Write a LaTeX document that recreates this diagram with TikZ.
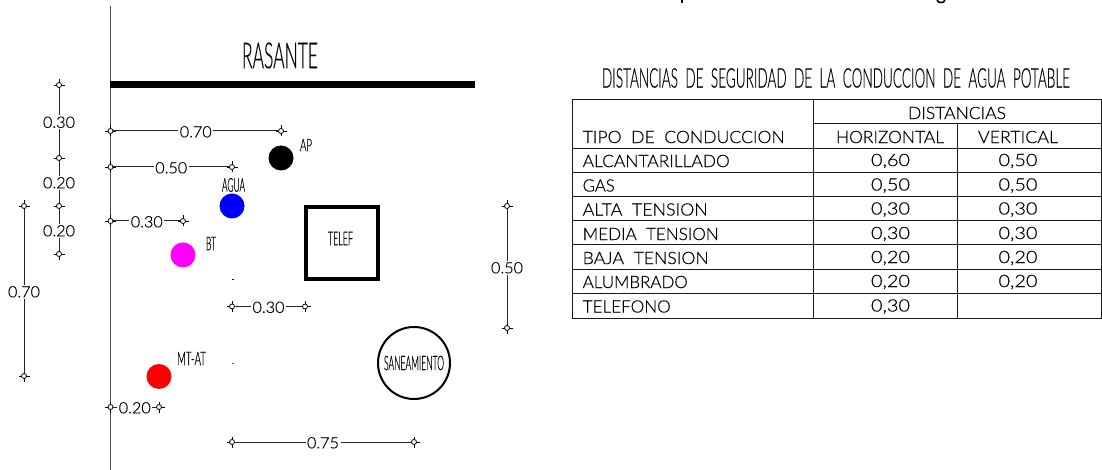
\documentclass[tikz,border=0pt]{standalone}
\usepackage{graphicx}
\usepackage{fontspec}
\setmainfont{Lato}[UprightFont=* Light,UprightFeatures={FakeBold=0.35}]
\newcommand{\fitw}[3]{\fontsize{#2}{#2}\selectfont\resizebox{#1pt}{\height}{#3}}
\newcommand{\term}[2]{\coordinate (#1t) at (#2);
  \draw[termt] ([yshift=-5.5pt]#1t) -- ([yshift=5.5pt]#1t) ([xshift=-5.5pt]#1t) -- ([xshift=5.5pt]#1t);
  \node[termc] (#1) at (#2) {};}
\newcommand{\dm}[3]{\draw[dimline] (#1) -- node[dimlab] (lab#1) {\fitw{32}{15.5}{#3}} (#2);}
\newcommand{\trow}[6]{%
  \node[celltxt,anchor=west] (#1a) at (582.5,#2) {\fitw{#3}{17}{#4}};
  \node[celltxt] (#1b) at (890.5,#2) {\fitw{39}{17}{#5}};
  \node[celltxt] (#1c) at (1018,#2) {\fitw{39}{17}{#6}};}
\tikzset{
  termc/.style={circle,draw=black,fill=white,inner sep=0pt,minimum size=5pt,line width=.8pt},
  termt/.style={line width=.7pt,draw=black},
  dimline/.style={line width=1pt,draw=black!85},
  dimlab/.style={fill=white,inner sep=1.5pt,text=black,yshift=-.8pt},
  pipe/.style={circle,inner sep=0pt,minimum size=25pt},
  tag/.style={inner sep=0pt,text=black},
  celltxt/.style={inner sep=0pt,text=black},
  grid/.style={line width=1pt,draw=black!90},
}
\begin{document}
\begin{tikzpicture}[x=1pt,y=-1pt]
\useasboundingbox[fill=white] (0,0) rectangle (1102,470);
% cut-off line of text at the top edge
\fill[black] (681,0) rectangle (682.8,3);
\draw[line width=1.6pt] (937,0) .. controls (938,3.5) and (944,3.5) .. (945,0);
% axis and grade
\coordinate (axt) at (110.5,6); \coordinate (axb) at (110.5,470);
\draw[line width=1.2pt,draw=black!70] (axt) -- (axb);
\coordinate (rl) at (110,85); \coordinate (rr) at (475,85);
\draw[line width=7pt] (rl) -- (rr);
\node[tag] (rasante) at (280,55.5) {\fitw{76}{36}{RASANTE}};
% terminators
\term{a1}{59,85}\term{a2}{59,158}\term{a3}{59,206}\term{a4}{59,254}
\term{b1}{24,206}\term{b2}{24,376}
\term{c1}{110.5,131}\term{c2}{281,131}
\term{d1}{110.5,167}\term{d2}{232,167}
\term{e1}{110.5,221}\term{e2}{183,221}
\term{f1}{232,306.5}\term{f2}{305,306.5}
\term{g1}{110.5,407}\term{g2}{159,407}
\term{h1}{232,442}\term{h2}{414,442}
\term{i1}{507,206}\term{i2}{507,328}
% dimensions
\dm{a1}{a2}{0.30}
\dm{a2}{a3}{0.20}
\dm{a3}{a4}{0.20}
\dm{b1}{b2}{0.70}
\dm{c1}{c2}{0.70}
\dm{d1}{d2}{0.50}
\dm{e1}{e2}{0.30}
\dm{f1}{f2}{0.30}
\dm{g1}{g2}{0.20}
\dm{h1}{h2}{0.75}
\dm{i1}{i2}{0.50}
% utilities
\node[pipe,fill=black] (ap) at (281,158) {};
\node[pipe,fill=blue] (agua) at (232,206) {};
\node[pipe,fill={rgb,255:red,255;green,0;blue,255}] (bt) at (183,255) {};
\node[pipe,fill=red] (mtat) at (159,376.5) {};
\node[tag] (lap) at (306,145) {\fitw{12}{17}{AP}};
\node[tag] (lagua) at (233.5,185) {\fitw{23}{19}{AGUA}};
\node[tag] (lbt) at (211,243.5) {\fitw{10}{19}{BT}};
\node[tag] (lmt) at (191.5,358.5) {\fitw{29}{19}{MT-AT}};
\node[draw,line width=4pt,minimum size=72pt,inner sep=0pt] (telef) at (341.5,243) {};
\node[tag] (ltel) at (340.5,238.5) {\fitw{25}{19}{TELEF}};
\node[circle,draw,line width=2pt,minimum size=72pt,inner sep=0pt] (san) at (414,363) {};
\node[tag] (lsan) at (414,363) {\fitw{60}{20}{SANEAMIENTO}};
\fill[black] (232,278.6) rectangle (233.5,279.4);
\fill[black!60] (232,363.2) rectangle (233.5,364);
% table
\node[tag] (title) at (836,78) {\fitw{468}{27}{DISTANCIAS~~DE~~SEGURIDAD~~DE~~LA~~CONDUCCION~~DE~~AGUA~~POTABLE}};
\draw[grid] (572.5,100) rectangle (1101,318);
\draw[grid] (813.5,100) -- (813.5,318);
\draw[grid] (957.5,124) -- (957.5,318);
\draw[grid] (813.5,124) -- (1101,124);
\foreach \y in {148.3,172.7,196.9,221,245,269,293.3} \draw[grid] (572.5,\y) -- (1101,\y);
\node[celltxt,anchor=west] (hd0) at (582.5,137) {\fitw{202}{17}{TIPO~~DE~~CONDUCCION}};
\node[celltxt] (hd1) at (957,113) {\fitw{98}{17}{DISTANCIAS}};
\node[celltxt] (hd2) at (890,137) {\fitw{108}{17}{HORIZONTAL}};
\node[celltxt] (hd3) at (1018,137) {\fitw{80}{17}{VERTICAL}};
\trow{r1}{161}{147}{ALCANTARILLADO}{0,60}{0,50}
\trow{r2}{185.5}{32}{GAS}{0,50}{0,50}
\trow{r3}{209.5}{125}{ALTA~~TENSION}{0,30}{0,30}
\trow{r4}{234}{136}{MEDIA~~TENSION}{0,30}{0,30}
\trow{r5}{258}{126}{BAJA~~TENSION}{0,20}{0,20}
\trow{r6}{282}{105}{ALUMBRADO}{0,20}{0,20}
\node[celltxt,anchor=west] (r7a) at (582.5,306.5) {\fitw{88}{17}{TELEFONO}};
\node[celltxt] (r7b) at (890.5,306.5) {\fitw{39}{17}{0,30}};
\end{tikzpicture}
\end{document}
